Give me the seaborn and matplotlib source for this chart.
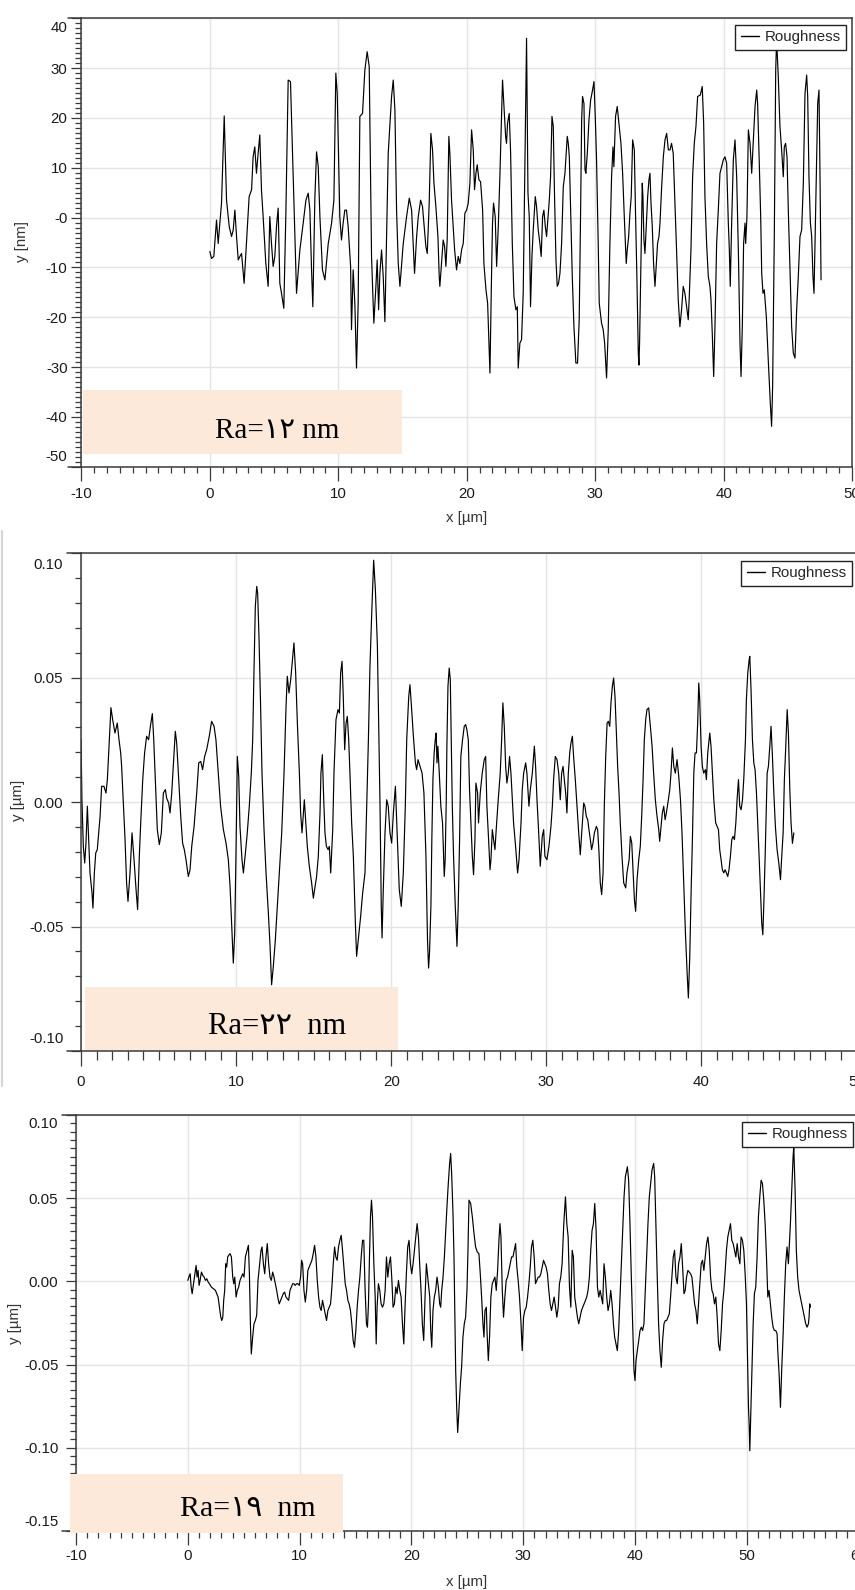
import matplotlib
matplotlib.use("Agg")
import matplotlib.pyplot as plt
import seaborn as sns
import pandas as pd
from matplotlib.ticker import MultipleLocator
from matplotlib.lines import Line2D
from matplotlib.patches import Rectangle

# ---------------- data: roughness profiles (x in µm, y in nm) ----------------
# Sample 1 (axis in nm)
prof1_a = [(0.00,-6.8),(0.13,-8.2),(0.31,-7.8),(0.52,-0.5),(0.65,-5.2),(0.78,-1.1),(0.91,2.9),(1.12,20.4),(1.30,3.5),(1.51,-1.8),(1.69,-3.8),(1.82,-2.5),(1.95,1.5),(2.08,-3.8),(2.21,-8.5),(2.34,-7.8),(2.47,-7.2),(2.60,-11.2),(2.67,-13.2),(3.06,4.2),(3.25,5.6),(3.37,12.2),(3.50,14.2),(3.63,8.9),(3.76,12.9),(3.89,16.6),(4.02,5.6),(4.15,0.2),(4.36,-9.2),(4.54,-13.8),(4.67,0.2),(4.80,-5.2),(4.93,-9.8),(5.06,-7.8),(5.19,-1.8),(5.32,1.9),(5.45,-13.2),(5.58,-15.2),(5.76,-18.2),(5.92,0.9),(6.10,27.6),(6.28,27.3),(6.49,8.2),(6.75,-15.2),(7.01,-6.5),(7.27,-1.1),(7.48,3.5),(7.66,4.9),(7.79,1.5),(7.92,-10.5),(8.02,-17.9),(8.18,4.2),(8.31,13.2),(8.44,10.2),(8.57,0.2),(8.77,-10.5),(8.96,-12.5),(9.22,-5.2),(9.48,-1.1),(9.66,3.5),(9.81,29.0),(9.92,24.9),(10.12,0.2),(10.25,-4.5),(10.38,-1.1),(10.51,1.5),(10.64,1.5),(10.77,-1.8),(10.96,-9.8),(11.03,-22.5),(11.16,-10.5),(11.29,-17.2),(11.42,-30.2),(11.55,-17.2),(11.68,20.3),(11.89,20.9),(12.07,29.6),(12.25,33.3),(12.41,30.3),(12.59,-7.8),(12.77,-21.2),(12.93,-13.8),(13.03,-8.5),(13.14,-18.5),(13.24,-11.2),(13.37,-6.5),(13.50,-11.8),(13.63,-20.9),(13.89,12.9),(14.15,24.3),(14.28,27.6),(14.41,21.6),(14.54,1.5),(14.67,-9.2),(14.80,-13.8),(15.06,-5.2),(15.32,0.2),(15.53,3.9),(15.71,1.5)]
prof1_b = [(15.94,-11.2),(16.10,-3.8),(16.23,0.2),(16.41,3.5),(16.56,2.2),(16.67,-1.1),(16.82,-5.8),(16.93,-7.2),(17.08,2.9),(17.21,16.9),(17.34,13.6),(17.45,6.9),(17.60,2.2),(17.76,-3.8),(17.86,-11.8),(17.91,-13.8),(18.04,-9.2),(18.17,-4.5),(18.28,-5.8),(18.38,-9.8),(18.48,-4.5),(18.61,16.3),(18.69,12.9),(18.82,3.5),(18.93,-1.1),(19.06,-6.5),(19.21,-10.5),(19.34,-7.8),(19.47,-9.2),(19.60,-6.5),(19.73,-5.2),(19.86,0.9),(19.99,1.5),(20.12,2.9),(20.25,6.9),(20.38,17.6),(20.51,13.6),(20.61,5.6),(20.72,8.9),(20.82,10.6),(20.95,7.6),(21.08,7.2),(21.24,1.5),(21.34,-9.2),(21.50,-14.5),(21.63,-17.2),(21.81,-31.2),(21.94,-10.5),(22.01,-1.1),(22.09,2.9),(22.22,0.2),(22.33,-9.8),(22.46,-1.8),(22.59,8.9),(22.72,21.6),(22.79,27.6),(22.90,22.3),(23.03,16.3),(23.10,14.9),(23.18,18.9),(23.31,20.9),(23.42,12.9),(23.55,-5.2),(23.68,-15.9),(23.83,-18.5),(23.94,-17.9),(24.01,-30.2),(24.14,-25.2),(24.27,-24.5),(24.40,-15.2),(24.53,10.2),(24.66,36.0),(24.77,4.9),(24.87,0.2),(24.97,-17.9),(25.08,-7.8),(25.18,-2.5),(25.34,4.2),(25.44,2.2),(25.57,-2.5),(25.70,-5.2),(25.80,-7.8),(25.91,0.2),(26.01,1.5),(26.12,-1.8),(26.22,-3.8),(26.30,-1.1),(26.43,3.5),(26.53,8.2),(26.64,20.3),(26.74,18.3),(26.84,4.2),(26.95,-8.5),(27.05,-13.8),(27.15,-13.2),(27.26,-11.2),(27.39,-5.2),(27.52,6.2),(27.65,8.9),(27.73,12.2),(27.83,16.3),(27.91,14.9),(27.99,12.2),(28.09,1.5),(28.22,-11.8),(28.35,-21.9),(28.50,-29.2),(28.63,-29.2),(28.76,-20.5),(28.87,1.5),(28.95,19.6),(29.02,24.3),(29.13,22.9),(29.21,9.6),(29.28,8.9),(29.39,12.9),(29.52,19.6),(29.65,23.6),(29.80,25.6),(29.91,27.3),(30.01,20.3),(30.11,11.6),(30.24,-5.2),(30.32,-17.2),(30.50,-21.2),(30.63,-22.5),(30.74,-25.2),(30.89,-32.2),(31.02,-22.5),(31.15,-5.2),(31.28,8.2),(31.39,14.2),(31.46,10.2),(31.59,20.3),(31.72,22.3),(31.88,18.3),(32.01,14.9),(32.14,8.9),(32.27,0.2),(32.42,-9.2),(32.50,-6.5),(32.61,-3.8),(32.71,0.9),(32.81,4.2),(32.92,15.6)]
prof1_c = [(33.05,13.6),(33.15,0.2),(33.25,-11.8),(33.36,-27.2),(33.41,-29.6),(33.46,-25.2),(33.52,-15.9),(33.62,0.2),(33.67,6.9),(33.72,4.2),(33.80,-4.5),(33.88,-7.2),(33.98,-1.8),(34.09,4.2),(34.19,7.6),(34.27,8.9),(34.35,2.9),(34.45,-1.8),(34.55,-9.2),(34.66,-13.8),(34.74,-10.5),(34.86,-5.2),(34.97,-3.8),(35.05,-1.1),(35.18,6.2),(35.31,12.2),(35.44,15.6),(35.57,16.9),(35.70,13.6),(35.83,13.6),(35.95,14.9),(36.08,12.9),(36.21,3.5),(36.34,-6.5),(36.47,-16.5),(36.60,-21.9),(36.73,-18.5),(36.86,-13.8),(36.99,-15.2),(37.12,-17.9),(37.25,-20.5),(37.33,-15.9),(37.46,-6.5),(37.59,8.2),(37.72,14.9),(37.85,18.3),(37.98,24.3),(38.19,24.6),(38.34,26.3),(38.45,18.9),(38.55,4.2),(38.68,-5.2),(38.81,-11.8),(38.94,-13.8),(39.02,-16.5),(39.12,-23.2),(39.23,-31.9),(39.33,-21.9),(39.46,-5.2),(39.59,1.5),(39.72,8.9),(39.85,10.2),(39.98,11.6),(40.11,12.2),(40.24,10.9),(40.37,-1.1),(40.45,-6.5),(40.52,-13.8),(40.63,-1.1),(40.76,11.6),(40.89,15.6),(41.02,8.2),(41.15,-6.5),(41.28,-25.2),(41.36,-31.9),(41.46,-21.9),(41.56,-5.2),(41.67,-1.1),(41.72,-5.2),(41.82,0.2),(41.93,17.6),(42.06,14.9),(42.19,8.9),(42.32,15.6),(42.45,22.3),(42.58,25.6),(42.65,22.9),(42.76,12.9),(42.89,0.2),(42.97,-11.2),(43.07,-15.2),(43.17,-14.5),(43.33,-19.9),(43.48,-28.6),(43.64,-37.3),(43.74,-41.9),(43.82,-33.9),(43.95,-3.8),(44.06,29.6),(44.13,35.7),(44.26,28.3),(44.39,18.3),(44.52,13.6),(44.65,8.2),(44.73,14.2),(44.83,14.9),(44.94,12.2),(45.04,1.5),(45.17,-10.5),(45.30,-21.9),(45.43,-27.2),(45.56,-28.2),(45.69,-18.5),(45.82,-11.8),(45.95,-3.8),(46.08,-2.5),(46.21,6.9),(46.34,24.9),(46.47,28.6),(46.55,24.3),(46.65,8.2),(46.76,-1.1),(46.86,-3.8),(46.96,-11.8),(47.04,-15.2),(47.12,-5.2),(47.25,12.9),(47.33,22.9),(47.43,25.6),(47.51,8.2),(47.59,-12.5)]

# Sample 2 (values read in nm, axis in µm)
prof2_a = [(0.00,25.0),(0.06,0.9),(0.15,-17.8),(0.24,-24.5),(0.32,-16.5),(0.41,-1.7),(0.47,-11.1),(0.58,-28.5),(0.71,-36.5),(0.77,-42.6),(0.86,-28.5),(0.95,-20.5),(1.05,-19.1),(1.14,-12.4),(1.23,-5.8),(1.33,6.3),(1.48,6.3),(1.61,3.6),(1.70,9.0),(1.83,25.0),(1.93,37.9),(2.04,33.1),(2.19,27.7),(2.34,31.7),(2.45,25.0),(2.56,19.7),(2.62,14.3),(2.73,-0.4),(2.84,-15.1),(2.94,-32.5),(3.03,-39.9),(3.16,-28.5),(3.29,-12.4),(3.42,-23.2),(3.55,-35.2),(3.65,-43.2),(3.76,-21.8),(3.85,-8.4),(3.98,9.0),(4.10,19.7),(4.23,26.4),(4.36,25.0),(4.49,31.1),(4.60,35.5),(4.69,25.0),(4.79,9.0),(4.92,-11.1),(5.05,-17.1),(5.18,-12.4),(5.31,3.6),(5.44,5.0),(5.52,1.6),(5.65,-0.4),(5.74,-4.4),(5.85,3.6),(5.95,14.3),(6.08,28.4),(6.17,23.7),(6.30,9.0),(6.43,-5.8),(6.55,-16.5),(6.66,-19.1),(6.77,-23.2),(6.92,-29.9),(7.03,-27.2),(7.14,-17.8),(7.29,-9.8),(7.46,3.6),(7.59,15.7),(7.72,16.3),(7.84,13.0),(7.97,18.3),(8.10,21.0),(8.27,26.4),(8.42,32.4),(8.58,30.4),(8.70,25.0),(8.85,11.6),(9.00,-1.7),(9.18,-11.1),(9.35,-16.5),(9.50,-23.2),(9.61,-33.9),(9.71,-48.6),(9.82,-64.7),(9.91,-52.6),(9.99,-21.8),(10.08,18.3),(10.17,10.3),(10.25,-9.8),(10.38,-23.2),(10.47,-28.5),(10.60,-20.5),(10.72,-12.4),(10.85,-1.7),(10.98,11.6),(11.07,25.0),(11.15,51.8),(11.24,78.6),(11.33,86.6),(11.39,83.9),(11.48,65.2),(11.58,38.4),(11.67,11.6),(11.80,-11.1),(11.93,-28.5),(12.08,-44.6),(12.19,-58.0),(12.29,-73.4),(12.40,-66.0),(12.53,-55.3),(12.66,-41.9),(12.79,-28.5),(12.94,-12.4),(13.09,11.6),(13.22,38.4),(13.30,50.5),(13.41,43.8),(13.52,49.1),(13.65,58.5),(13.73,63.9),(13.84,51.8),(13.95,31.7),(14.08,11.6),(14.16,-4.4),(14.25,-12.4),(14.40,0.9),(14.51,-9.8),(14.59,-17.8),(14.72,-25.8),(14.87,-32.5),(14.98,-38.6),(15.09,-33.9),(15.19,-29.9),(15.30,-21.8),(15.41,-4.4),(15.47,11.6),(15.56,19.0),(15.65,0.9),(15.73,-12.4),(15.82,-17.8),(15.93,-19.1),(16.01,-17.8),(16.10,-28.5),(16.23,-11.1),(16.31,11.6),(16.44,33.1),(16.57,37.1),(16.66,35.7),(16.74,51.8),(16.83,56.5),(16.91,42.4),(17.00,21.0),(17.09,31.7),(17.17,34.4),(17.26,25.0),(17.34,11.6),(17.45,-8.4),(17.56,-21.8),(17.69,-48.6),(17.77,-62.0),(17.88,-55.3),(18.03,-45.9),(18.16,-36.5),(18.31,-28.5),(18.42,-1.7),(18.53,25.0),(18.63,54.5),(18.76,78.6),(18.87,97.1),(18.98,85.3),(19.11,62.5),(19.19,31.7),(19.28,-1.7),(19.36,-41.9),(19.41,-54.6),(19.49,-35.2),(19.60,-12.4),(19.71,0.9),(19.81,-1.7),(19.92,-12.4),(20.03,-16.5),(20.14,-4.4),(20.27,6.3),(20.40,-15.1),(20.52,-35.2),(20.65,-41.9),(20.78,-28.5),(20.91,-1.7),(21.00,25.0),(21.13,42.4),(21.21,47.1),(21.32,37.1),(21.43,26.4),(21.56,15.7),(21.64,13.0),(21.73,17.0),(21.86,14.3),(21.99,11.6),(22.11,3.6),(22.24,-21.8)]
prof2_b = [(22.34,-55.3),(22.41,-66.7),(22.47,-60.6),(22.56,-41.9),(22.62,-15.1),(22.69,9.0),(22.77,19.7),(22.84,25.0),(22.90,27.7),(22.95,15.7),(23.01,22.4),(23.10,11.6),(23.20,-1.7),(23.31,-8.4),(23.42,-29.9),(23.48,-23.2),(23.55,0.9),(23.59,22.4),(23.66,46.5),(23.74,53.8),(23.81,49.1),(23.87,25.0),(23.94,-1.7),(24.02,-21.8),(24.13,-41.9),(24.24,-58.0),(24.32,-41.9),(24.41,-15.1),(24.49,18.3),(24.60,25.0),(24.71,30.4),(24.80,31.1),(24.88,29.0),(24.97,25.0),(25.05,5.0),(25.14,-8.4),(25.23,-21.8),(25.31,-29.2),(25.40,-15.1),(25.46,7.6),(25.57,3.6),(25.63,-8.4),(25.74,3.6),(25.87,11.6),(26.00,17.0),(26.09,18.3),(26.17,-1.7),(26.28,-15.1),(26.37,-27.2),(26.43,-23.2),(26.52,-11.1),(26.60,-15.1),(26.69,-19.1),(26.77,-11.1),(26.90,0.9),(27.03,11.6),(27.12,25.0),(27.20,39.8),(27.29,30.4),(27.38,14.3),(27.46,7.6),(27.55,11.6),(27.63,18.3),(27.72,11.6),(27.81,0.9),(27.89,-8.4),(28.02,-17.8),(28.15,-28.5),(28.24,-23.2),(28.37,-8.4),(28.45,5.0),(28.54,11.6),(28.67,15.7),(28.75,11.6),(28.88,-1.7),(28.97,5.0),(29.10,11.6),(29.23,22.4),(29.31,14.3),(29.40,0.9),(29.51,-12.4),(29.61,-25.8),(29.74,-13.8),(29.83,-11.1),(29.91,-21.8),(30.04,-23.2),(30.17,-17.8),(30.30,-9.8),(30.39,-1.7),(30.47,9.0),(30.58,18.3),(30.69,17.0),(30.80,11.6),(30.90,0.9),(30.99,11.6),(31.08,14.3),(31.16,9.0),(31.25,3.6),(31.33,-4.4),(31.42,11.6),(31.51,19.7),(31.59,23.7),(31.68,26.4),(31.76,18.3),(31.87,9.0),(31.98,-1.7),(32.09,-12.4),(32.19,-21.2),(32.30,-11.1),(32.41,-0.4),(32.49,-1.7),(32.58,-5.8),(32.67,-7.1),(32.75,-11.1),(32.84,-15.1),(32.92,-19.1),(33.01,-16.5),(33.10,-12.4),(33.23,-9.8),(33.31,-11.1),(33.40,-20.5),(33.48,-32.5),(33.57,-37.2),(33.66,-28.5),(33.74,-1.7),(33.83,18.3),(33.92,31.7),(34.00,32.4),(34.09,30.4),(34.17,39.8),(34.26,46.5),(34.34,49.8),(34.43,42.4),(34.52,27.7),(34.60,14.3),(34.69,3.6),(34.77,-8.4),(34.88,-21.8),(34.99,-32.5),(35.12,-34.5),(35.20,-28.5),(35.34,-23.2),(35.42,-13.8),(35.51,-16.5),(35.59,-27.2),(35.68,-39.2),(35.76,-43.9),(35.85,-31.2),(35.96,-23.2),(36.06,-17.8),(36.15,-5.8),(36.24,9.0),(36.32,25.0),(36.41,33.1),(36.49,37.1),(36.60,37.8),(36.71,30.4),(36.82,22.4),(36.92,11.6),(37.03,0.9),(37.14,-5.8),(37.25,-11.1),(37.31,-15.8),(37.40,-9.8),(37.48,-4.4),(37.57,-1.7),(37.66,-7.1),(37.74,-4.4),(37.87,0.9),(37.96,5.0),(38.04,11.6),(38.13,21.7),(38.22,14.3),(38.32,11.6),(38.43,17.0),(38.54,10.3),(38.65,0.9),(38.75,-12.4),(38.86,-32.5),(38.97,-52.6),(39.08,-68.7),(39.16,-78.7),(39.25,-62.0),(39.33,-37.9),(39.42,-15.1),(39.51,11.6),(39.59,19.7),(39.68,19.7),(39.76,31.7),(39.83,47.8),(39.89,41.1),(39.98,22.4),(40.06,14.3),(40.15,11.6),(40.26,13.0),(40.32,9.0),(40.41,19.7),(40.54,27.7),(40.62,22.4),(40.71,11.6),(40.80,0.9),(40.92,-8.4),(41.01,-9.8),(41.10,-11.1),(41.18,-19.1),(41.27,-23.2),(41.35,-27.2),(41.44,-28.5),(41.53,-27.2),(41.61,-28.5),(41.70,-29.9),(41.78,-27.2),(41.87,-21.8),(41.96,-15.1),(42.04,-13.8),(42.13,-15.1),(42.22,-8.4),(42.30,0.9),(42.39,9.0),(42.47,-1.7),(42.56,-3.1),(42.65,0.9),(42.73,9.0),(42.84,25.0),(42.90,41.1),(42.99,51.8),(43.08,57.2),(43.12,58.5),(43.20,45.1),(43.29,25.0),(43.38,15.7),(43.46,13.0),(43.55,3.6),(43.63,-8.4),(43.72,-21.8),(43.81,-36.5),(43.89,-48.6),(43.96,-53.3),(44.02,-41.9),(44.11,-21.8),(44.19,-1.7),(44.24,11.6),(44.32,14.3),(44.41,22.4),(44.49,30.4),(44.58,18.3),(44.67,3.6),(44.77,-9.8),(44.88,-19.1),(44.99,-24.5),(45.10,-31.2),(45.18,-21.8),(45.27,-12.4),(45.35,9.0),(45.44,22.4),(45.53,37.1),(45.61,27.7),(45.70,5.0),(45.78,-8.4),(45.87,-16.6),(45.96,-12.4)]

# Sample 3 (values read in nm, axis in µm)
prof3_a = [(0.00,0.6),(0.09,2.6),(0.21,4.6),(0.30,-3.4),(0.39,-7.4),(0.51,-1.4),(0.63,4.6),(0.74,9.6),(0.83,2.6),(0.92,6.6),(1.01,-2.4),(1.10,0.6),(1.22,5.6),(1.34,3.6),(1.46,2.6),(1.58,0.6),(1.70,1.6),(1.82,-0.4),(1.93,-1.4),(2.11,-3.4),(2.29,-4.4),(2.47,-5.4),(2.59,-7.4),(2.71,-9.4),(2.83,-15.5),(2.95,-21.5),(3.04,-23.5),(3.13,-21.5),(3.21,-11.4),(3.30,-5.4),(3.39,10.6),(3.48,8.6),(3.57,14.7),(3.66,15.7),(3.78,16.7),(3.90,14.7),(4.02,2.6),(4.11,-1.4),(4.20,2.6),(4.32,-9.4),(4.43,-5.4),(4.55,-3.4),(4.67,0.6),(4.79,2.6),(4.91,4.6),(5.03,2.6),(5.15,14.7),(5.27,17.7),(5.42,21.7),(5.51,4.6),(5.60,-25.5),(5.68,-43.6),(5.80,-33.5),(5.92,-25.5),(6.04,-23.5),(6.16,-20.5),(6.28,0.6),(6.40,8.6),(6.55,18.7),(6.64,20.7),(6.76,10.6),(6.88,4.6),(6.99,14.7),(7.11,22.7),(7.23,10.6),(7.35,2.6),(7.47,0.6),(7.59,5.6),(7.71,2.6),(7.83,-1.4),(7.95,-5.4),(8.07,-10.4),(8.18,-13.5),(8.30,-11.4),(8.42,-9.4),(8.54,-7.4),(8.66,-6.4),(8.78,-9.4),(8.90,-10.4),(9.02,-11.4),(9.14,-5.4),(9.26,-3.4),(9.38,-1.4),(9.49,-1.4),(9.61,-2.4),(9.73,-1.4),(9.85,-1.4),(9.97,-2.4),(10.09,2.6),(10.18,12.7),(10.27,10.6),(10.39,-5.4),(10.51,-12.4),(10.63,-5.4),(10.74,6.6),(10.86,8.6),(10.98,10.6),(11.10,12.7),(11.22,16.7),(11.34,21.7),(11.46,14.7),(11.58,0.6),(11.70,-9.4),(11.82,-15.5),(11.93,-17.5),(12.05,-11.4),(12.17,-15.5),(12.29,-19.5),(12.41,-23.5),(12.53,-17.5),(12.65,-15.5),(12.77,-13.5),(12.89,-3.4),(13.01,10.6),(13.13,20.7),(13.24,14.7),(13.36,12.7),(13.48,20.7),(13.60,24.7),(13.72,27.7),(13.84,18.7),(13.96,8.6),(14.08,-1.4),(14.20,-5.4),(14.32,-11.4),(14.43,-13.5),(14.55,-17.5),(14.67,-25.5),(14.79,-35.5),(14.91,-39.6),(15.03,-29.5),(15.15,-15.5),(15.27,-5.4),(15.39,2.6),(15.51,14.7),(15.63,24.7),(15.74,24.7),(15.86,-5.4),(15.98,-25.5),(16.07,-27.5),(16.16,-13.5),(16.25,14.7),(16.34,38.8),(16.43,48.8),(16.52,38.8),(16.64,10.6),(16.76,-9.4),(16.85,-37.6),(16.93,-15.5),(17.05,-1.4),(17.17,-5.4),(17.29,-13.5),(17.41,-15.5),(17.53,-13.5),(17.65,-5.4),(17.77,14.7),(17.89,2.6),(18.01,10.6),(18.13,14.7),(18.24,2.6),(18.36,-15.5),(18.48,-13.5),(18.60,-3.4),(18.72,-7.4),(18.84,0.6),(18.96,-5.4),(19.08,-9.4),(19.20,-25.5),(19.32,-37.6),(19.43,-15.5),(19.55,4.6),(19.67,20.7),(19.79,24.7),(19.91,10.6),(20.03,4.6),(20.15,10.6),(20.27,18.7),(20.39,26.7),(20.51,34.7),(20.63,26.7),(20.74,10.6),(20.86,-5.4),(20.98,-25.5),(21.10,-35.5),(21.22,-9.4),(21.34,10.6)]
prof3_b = [(21.64,-9.4),(21.73,-29.5),(21.82,-39.6),(21.93,-17.5),(22.05,-9.4),(22.17,-5.4),(22.29,2.6),(22.41,-3.4),(22.53,-13.5),(22.62,-15.5),(22.71,-5.4),(22.83,2.6),(22.95,14.7),(23.07,30.7),(23.18,44.8),(23.30,58.8),(23.42,70.9),(23.51,76.9),(23.60,64.9),(23.72,40.8),(23.81,14.7),(23.90,-25.5),(23.96,-53.6),(24.05,-75.7),(24.14,-90.8),(24.26,-75.7),(24.38,-61.6),(24.49,-51.6),(24.61,-33.5),(24.73,-25.5),(24.85,-21.5),(24.97,-5.4),(25.06,18.7),(25.15,48.8),(25.30,46.8),(25.45,38.8),(25.60,28.7),(25.74,20.7),(25.89,17.7),(26.04,16.7),(26.16,4.6),(26.28,-9.4),(26.40,-25.5),(26.49,-33.5),(26.58,-17.5),(26.70,-15.5),(26.76,-29.5),(26.88,-47.6),(26.99,-33.5),(27.11,-9.4),(27.23,-1.4),(27.35,0.6),(27.47,2.6),(27.59,-5.4),(27.71,6.6),(27.83,24.7),(27.92,34.7),(28.01,26.7),(28.13,-5.4),(28.24,-21.5),(28.36,-9.4),(28.48,0.6),(28.60,2.6),(28.72,6.6),(28.84,10.6),(28.96,14.7),(29.08,14.7),(29.20,18.7),(29.32,22.7),(29.43,8.6),(29.55,0.6),(29.67,-9.4),(29.79,-23.5),(29.91,-41.6),(30.03,-21.5),(30.15,-17.5),(30.27,-15.5),(30.39,-9.4),(30.51,-1.4),(30.63,8.6),(30.74,20.7),(30.86,24.7),(30.98,14.7),(31.10,-1.4),(31.22,0.6),(31.34,2.6),(31.46,2.6),(31.58,4.6),(31.70,8.6),(31.82,12.7),(31.93,10.6),(32.05,8.6),(32.17,4.6),(32.29,-5.4),(32.41,-13.5),(32.53,-17.5),(32.65,-13.5),(32.77,-9.4),(32.89,-15.5),(33.01,-21.5),(33.13,-15.5),(33.24,-1.4),(33.36,2.6),(33.48,10.6),(33.63,34.7),(33.78,50.8),(33.90,34.7),(34.02,26.7),(34.14,-3.4),(34.26,-15.5),(34.38,18.7),(34.49,14.7),(34.61,-9.4),(34.73,-15.5),(34.85,-21.5),(34.97,-25.5),(35.09,-21.5),(35.21,-17.5),(35.33,-15.5),(35.45,-13.5),(35.57,-11.4),(35.68,-9.4),(35.80,-5.4),(35.92,2.6),(36.04,18.7),(36.16,30.7),(36.28,34.7),(36.40,46.8),(36.52,30.7),(36.64,-3.4),(36.76,-9.4),(36.88,-5.4),(36.99,-9.4),(37.11,-13.5),(37.23,10.6),(37.35,2.6),(37.47,-9.4),(37.59,-17.5),(37.71,-13.5),(37.83,-5.4),(37.95,-13.5),(38.07,-25.5),(38.18,-33.5),(38.30,-37.6),(38.42,-41.6),(38.54,-29.5),(38.66,-9.4),(38.78,10.6),(38.90,30.7),(39.02,50.8),(39.14,62.9),(39.26,66.9),(39.32,68.9),(39.43,60.8),(39.55,34.7),(39.67,2.6),(39.79,-25.5),(39.91,-53.6),(40.00,-59.6),(40.09,-47.6),(40.21,-41.6),(40.33,-35.5),(40.45,-29.5),(40.57,-27.5),(40.68,-29.5),(40.80,-25.5),(40.92,-5.4),(41.04,14.7),(41.16,34.7),(41.28,50.8),(41.40,58.8),(41.52,66.9),(41.67,70.9),(41.76,62.9),(41.88,30.7),(41.99,2.6),(42.11,-25.5),(42.23,-41.6),(42.35,-51.6),(42.47,-35.5),(42.59,-25.5),(42.71,-23.5),(42.83,-23.5),(42.95,-21.5),(43.07,-19.5),(43.18,-9.4),(43.30,2.6),(43.42,14.7),(43.54,18.7),(43.66,2.6),(43.78,-1.4),(43.90,10.6),(44.02,14.7),(44.14,22.7),(44.26,8.6),(44.38,-7.4),(44.49,-5.4),(44.61,2.6),(44.73,6.6),(44.85,5.6),(44.97,4.6),(45.09,2.6),(45.21,-5.4),(45.33,-13.5),(45.45,-17.5),(45.57,-25.5),(45.68,-13.5),(45.80,-1.4),(45.92,10.6),(46.04,12.7),(46.16,6.6),(46.28,14.7),(46.40,22.7),(46.52,26.7),(46.64,18.7),(46.76,2.6),(46.88,-5.4),(46.99,-7.4),(47.11,-13.5),(47.23,-9.4),(47.35,-21.5),(47.47,-37.6),(47.59,-41.6),(47.71,-29.5),(47.83,-13.5),(47.95,-5.4),(48.07,6.6),(48.18,18.7),(48.30,26.7),(48.42,30.7),(48.54,34.7),(48.66,24.7),(48.78,22.7),(48.90,18.7),(49.02,14.7),(49.14,22.7),(49.26,14.7),(49.38,10.6),(49.49,26.7),(49.61,24.7),(49.73,18.7),(49.85,4.6),(49.97,-13.5),(50.06,-45.6),(50.15,-75.7),(50.21,-85.7),(50.27,-101.8),(50.33,-85.7),(50.45,-55.6),(50.57,-25.5),(50.68,-7.4),(50.80,-3.4),(50.92,14.7),(51.04,38.8),(51.16,50.8),(51.28,60.8),(51.40,58.8),(51.52,48.8),(51.64,34.7),(51.76,14.7),(51.88,-9.4),(51.99,-5.4),(52.11,-13.5),(52.23,-21.5),(52.35,-27.5),(52.47,-29.5),(52.59,-29.5),(52.71,-31.5),(52.77,-41.6),(52.89,-55.6),(53.01,-75.7),(53.13,-51.6),(53.24,-33.5),(53.36,-9.4),(53.48,10.6),(53.60,20.7),(53.72,10.6),(53.78,18.7),(53.90,34.7),(54.02,54.8),(54.14,74.9),(54.20,80.9),(54.32,54.8),(54.43,18.7),(54.55,2.6),(54.67,-5.4),(54.79,-9.4),(54.91,-13.5),(55.03,-17.5),(55.15,-21.5),(55.27,-25.5),(55.39,-27.5),(55.51,-25.5),(55.57,-21.5),(55.63,-13.5),(55.68,-15.5)]

# tick labels and annotation texts
ylabels1 = ['-50', '-40', '-30', '-20', '-10', '-0', '10', '20', '30', '40']
ylabels2 = ['-0.10', '-0.05', '0.00', '0.05', '0.10']
ylabels3 = ['-0.15', '-0.10', '-0.05', '0.00', '0.05', '0.10']
ra_texts = ['Ra=\u0661\u0662 nm', 'Ra=\u0662\u0662  nm', 'Ra=\u0661\u0669  nm']
legend_label = 'Roughness'

# ---------------- figure ----------------
sns.set_theme(style="white")
plt.rcParams['font.family'] = ['Liberation Sans', 'DejaVu Sans']
plt.rcParams['axes.unicode_minus'] = False

W, H, DPI = 855, 1590, 100
fig = plt.figure(figsize=(W / DPI, H / DPI), dpi=DPI, facecolor='white')

SPINE = '#3a3a3a'
GRID = '#e4e4e4'
TXT = '#1a1a1a'
PEACH = '#fde9da'
FS = 10.8


def frect(x0, y0, x1, y1):
    return [x0 / W, 1 - y1 / H, (x1 - x0) / W, (y1 - y0) / H]


def fline(xs, ys, color=SPINE, lw=1.1):
    fig.add_artist(Line2D([x / W for x in xs], [1 - y / H for y in ys],
                          transform=fig.transFigure, color=color, lw=lw))


def make_panel(px, data, scale, xlim, ylim, xticks, yticks, ylabels, yminor,
               ypad, end_dy, xmaj_len, xmin_len, xpad, leg_px):
    x0, y0, x1, y1 = px
    ax = fig.add_axes(frect(x0, y0, x1, y1))
    df = pd.DataFrame(data, columns=['x', 'y'])
    df['y'] = df['y'] * scale
    sns.lineplot(data=df, x='x', y='y', ax=ax, color='black', lw=0.85,
                 sort=False, estimator=None, legend=False)
    ax.set_xlabel('')
    ax.set_ylabel('')
    ax.set_xlim(*xlim)
    ax.set_ylim(*ylim)
    ax.set_xticks(xticks, labels=[str(v) for v in xticks])
    inner = [''] + ylabels[1:-1] + ['']
    ax.set_yticks(yticks, labels=inner)
    ax.xaxis.set_minor_locator(MultipleLocator(1))
    ax.yaxis.set_minor_locator(MultipleLocator(yminor))
    ax.grid(True, which='major', color=GRID, lw=1.0)
    ax.grid(False, which='minor')
    ax.set_axisbelow(True)
    for s in ax.spines.values():
        s.set_visible(True)
        s.set_color(SPINE)
        s.set_linewidth(1.1)
    ax.tick_params(axis='y', which='major', direction='out', length=7, width=0.9,
                   color=SPINE, pad=ypad, labelsize=FS, labelcolor=TXT, left=True)
    ax.tick_params(axis='y', which='minor', direction='out', length=4.5, width=0.9,
                   color=SPINE, left=True)
    ax.tick_params(axis='x', which='major', direction='out', length=xmaj_len, width=0.9,
                   color=SPINE, pad=xpad, labelsize=FS, labelcolor=TXT, bottom=True)
    ax.tick_params(axis='x', which='minor', direction='out', length=xmin_len, width=0.9,
                   color=SPINE, bottom=True)
    # end labels sit slightly inside the frame
    for val, lab, dy in [(yticks[0], ylabels[0], end_dy), (yticks[-1], ylabels[-1], -end_dy)]:
        ax.annotate(lab, xy=(0, val), xycoords=('axes fraction', 'data'),
                    xytext=(-(7 + ypad), dy), textcoords='offset points',
                    ha='right', va='center', fontsize=FS, color=TXT,
                    annotation_clip=False)
    lx0, ly0, lx1, ly1 = leg_px
    leg = ax.legend(handles=[Line2D([], [], color='black', lw=1.0)], labels=[legend_label],
                    loc='upper right', bbox_to_anchor=(lx1 / W, 1 - ly0 / H),
                    bbox_transform=fig.transFigure, frameon=True, fancybox=False,
                    framealpha=1, edgecolor='#222222', borderpad=0.35,
                    handlelength=1.2, handletextpad=0.4, borderaxespad=0,
                    fontsize=FS)
    leg.get_frame().set_linewidth(1.0)
    return ax


# Panel 1
ax1 = make_panel((81.4, 18.3, 852, 466.7), prof1_a + prof1_b + prof1_c, 1.0,
                 (-10, 50), (-50, 40), [-10, 0, 10, 20, 30, 40, 50],
                 list(range(-50, 41, 10)), ylabels1, 1, 3.0, 7.2,
                 10.2, 4.5, 4.2, (733, 25, 846, 52))
# Panel 2
ax2 = make_panel((81, 553, 856.5, 1051), prof2_a + prof2_b, 0.001,
                 (0, 50), (-0.10, 0.10), [0, 10, 20, 30, 40, 50],
                 [-0.10, -0.05, 0.0, 0.05, 0.10], ylabels2, 0.01, 5.7, 8.6,
                 10.8, 6.5, 6.3, (738, 561, 852, 591))
# Panel 3
ax3 = make_panel((76, 1115, 858.6, 1531), prof3_a + prof3_b, 0.001,
                 (-10, 60), (-0.15, 0.10), [-10, 0, 10, 20, 30, 40, 50, 60],
                 [-0.15, -0.10, -0.05, 0.0, 0.05, 0.10], ylabels3, 0.005, 5.7, 6.7,
                 10.3, 5.0, 2.3, (738, 1122, 853, 1147))

# frame stubs extending left of the y axis (as in the source screenshots)
fline([68, 81.4], [18.3, 18.3]); fline([68, 81.4], [466.7, 466.7])
fline([67, 81], [553, 553]); fline([67, 81], [1051, 1051])
fline([62, 76], [1115, 1115]); fline([62, 76], [1531, 1531])
# faint border of the middle screenshot
fline([1.5, 1.5], [531, 1086], color='#d4d4d4', lw=1.5)

# axis titles
fig.text(22 / W, 1 - 242 / H, 'y [nm]', rotation=90, ha='center', va='center', fontsize=FS, color='#333333')
fig.text(466.7 / W, 1 - 518 / H, 'x [\u00b5m]', ha='center', va='center', fontsize=FS, color='#333333')
fig.text(18 / W, 1 - 800 / H, 'y [\u00b5m]', rotation=90, ha='center', va='center', fontsize=FS, color='#333333')
fig.text(15 / W, 1 - 1323 / H, 'y [\u00b5m]', rotation=90, ha='center', va='center', fontsize=FS, color='#333333')
fig.text(467 / W, 1 - 1582 / H, 'x [\u00b5m]', ha='center', va='center', fontsize=FS, color='#333333')

# Ra annotation boxes
ra_boxes = [(83, 390, 402, 454), (85, 987, 398, 1050), (70, 1474, 343, 1533)]
ra_pos = [(215, 438), (208, 1034), (180, 1516)]
ra_sizes = [21, 22, 21.5]
for (bx0, by0, bx1, by1), (tx, ty), txt, fs in zip(ra_boxes, ra_pos, ra_texts, ra_sizes):
    fig.add_artist(Rectangle((bx0 / W, 1 - by1 / H), (bx1 - bx0) / W, (by1 - by0) / H,
                             transform=fig.transFigure, facecolor=PEACH,
                             edgecolor='none', zorder=5))
    fig.text(tx / W, 1 - ty / H, txt, ha='left', va='baseline', fontsize=fs,
             family=['Liberation Serif', 'DejaVu Sans'], color='black', zorder=6)

fig.savefig('out.png', dpi=DPI, facecolor='white')
